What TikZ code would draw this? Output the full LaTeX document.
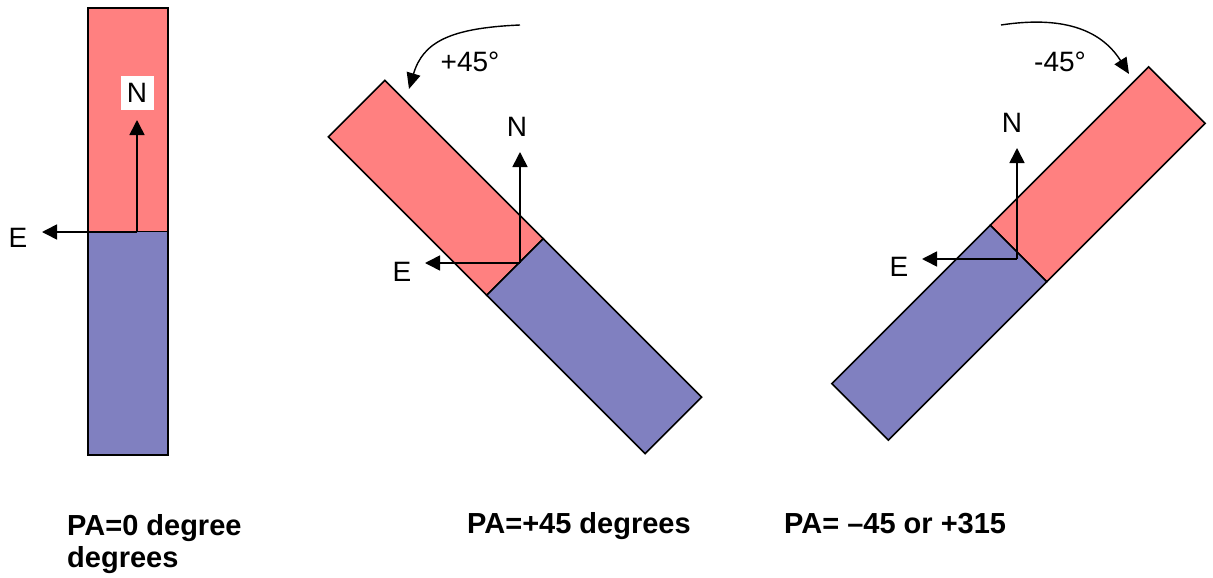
\documentclass[tikz,border=0pt]{standalone}
\usepackage{fontspec}
\setmainfont{Liberation Sans}
\usetikzlibrary{arrows.meta}
\definecolor{magred}{HTML}{FF8080}
\definecolor{magblue}{HTML}{8080C0}
\begin{document}
\begin{tikzpicture}[x=1pt,y=-1pt,
  bar/.style={draw=black,line width=1.6pt,line join=miter},
  axis/.style={draw=black,line width=1.6pt,-{Triangle[length=15pt,width=15pt]}},
  rot/.style={draw=black,line width=1.4pt,-{Triangle[length=16pt,width=14pt]}},
  lbl/.style={font=\fontsize{28}{32}\selectfont,inner sep=0pt},
  captext/.style={font=\fontsize{29}{32}\selectfont\bfseries,inner sep=0pt,anchor=base west,align=left}]
\useasboundingbox (0,0) rectangle (1213,578);
% ---- left bar (PA=0)
\begin{scope}[shift={(128,231.5)}]
  \filldraw[bar,fill=magred] (-40,-223.5) rectangle (40,0);
  \filldraw[bar,fill=magblue] (-40,0) rectangle (40,223.5);
\end{scope}
\coordinate (o1) at (137,232);
\coordinate (n1) at (137,120);
\coordinate (e1) at (42,232);
\draw[axis] (o1) -- (n1);
\draw[axis] (o1) -- (e1);
\node[lbl,fill=white,minimum width=33pt,minimum height=33pt] (N1) at (137,93) {N};
\node[lbl] (E1) at (18,238) {E};
% ---- middle bar (PA=+45)
\begin{scope}[shift={(515,267)},rotate=45]
  \filldraw[bar,fill=magred] (-40,-224) rectangle (40,0);
  \filldraw[bar,fill=magblue] (-40,0) rectangle (40,224);
\end{scope}
\coordinate (o2) at (520,263);
\coordinate (n2) at (520,152);
\coordinate (e2) at (425,263);
\draw[axis] (o2) -- (n2);
\draw[axis] (o2) -- (e2);
\node[lbl] (N2) at (517,127) {N};
\node[lbl] (E2) at (402,272) {E};
\coordinate (a2s) at (520,25);
\coordinate (a2e) at (409,89);
\draw[rot] (a2s) .. controls (450,28) and (423,42) .. (a2e);
\node[lbl] (R2) at (470,62) {+45°};
% ---- right bar (PA=-45)
\begin{scope}[shift={(1018.5,253.5)},rotate=-45]
  \filldraw[bar,fill=magred] (-40,-224) rectangle (40,0);
  \filldraw[bar,fill=magblue] (-40,0) rectangle (40,224);
\end{scope}
\coordinate (o3) at (1017,259);
\coordinate (n3) at (1017,148);
\coordinate (e3) at (922,259);
\draw[axis] (o3) -- (n3);
\draw[axis] (o3) -- (e3);
\node[lbl] (N3) at (1012,123) {N};
\node[lbl] (E3) at (899,267) {E};
\coordinate (a3s) at (1001,25);
\coordinate (a3e) at (1129,74);
\draw[rot] (a3s) .. controls (1060,16) and (1100,28) .. (a3e);
\node[lbl] (R3) at (1060,62) {-45°};
% ---- captions
\node[captext] (C1) at (67,567) {PA=0 degree\\degrees};
\node[captext] (C2) at (467,533) {PA=+45 degrees};
\node[captext] (C3) at (784,533) {PA= –45 or +315};
\end{tikzpicture}
\end{document}
